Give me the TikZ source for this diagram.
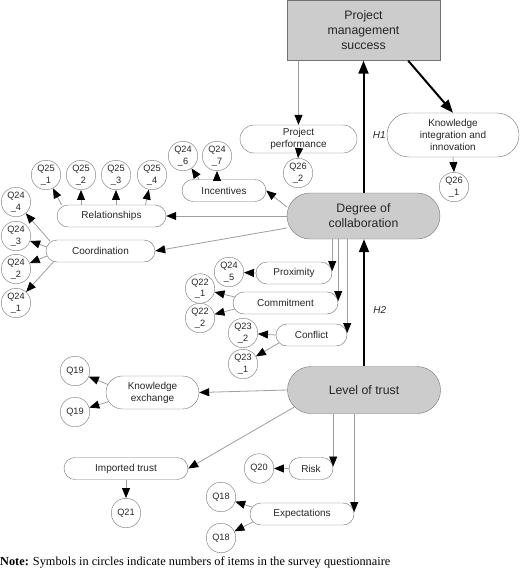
\documentclass[tikz,border=0pt]{standalone}
\usepackage{fontspec}
\setmainfont{Liberation Serif}
\setsansfont{Liberation Sans}
\usetikzlibrary{arrows.meta,shapes.misc}
\definecolor{boxgray}{gray}{0.8}
\definecolor{edgegray}{gray}{0.45}
\definecolor{linegray}{gray}{0.62}
\begin{document}
\begin{tikzpicture}[x=1pt, y=-1pt,
    mainbox/.style={rounded rectangle, draw=edgegray, fill=boxgray, text=black!85, align=center, inner sep=0pt,
        minimum width=153pt, minimum height=46pt, font=\sffamily\fontsize{12.3}{15}\selectfont},
    subbox/.style={rounded rectangle, draw=edgegray, fill=white, text=black!85, align=center, inner sep=0pt,
        minimum height=22pt, font=\sffamily\fontsize{10}{12}\selectfont},
    item/.style={circle, draw=edgegray, fill=white, text=black!85, align=center, inner sep=0pt,
        minimum size=29.5pt, font=\sffamily\fontsize{9.2}{11.5}\selectfont},
    link/.style={draw=linegray, line width=0.8pt, -{Triangle[length=10pt, width=8pt, color=black, fill=black]}},
    hypo/.style={draw=black, line width=2pt, -{Triangle[length=13pt, width=10pt]}},
    hlabel/.style={font=\sffamily\itshape\fontsize{10}{12}\selectfont, text=black!85}]
    \useasboundingbox (0,0) rectangle (520,578);

    % constructs
    \node[mainbox, rectangle, minimum height=60pt] (PMS) at (363.5,30.5) {Project\\management\\success};
    \node[mainbox] (DC) at (363.5,216) {Degree of\\collaboration};
    \node[mainbox, minimum height=47pt] (LT) at (364,390) {Level of trust};

    \node[subbox, minimum width=117pt, minimum height=28pt] (PP) at (298.5,139) {Project\\performance};
    \node[subbox, minimum width=132pt, minimum height=44pt] (KII) at (453,135) {Knowledge\\integration and\\innovation};
    \node[subbox, minimum width=84pt] (INC) at (224,190.5) {Incentives};
    \node[subbox, minimum width=109pt] (REL) at (111.5,216) {Relationships};
    \node[subbox, minimum width=109pt] (COO) at (100.5,251) {Coordination};
    \node[subbox, minimum width=76pt] (PROX) at (294,273) {Proximity};
    \node[subbox, minimum width=105pt] (COM) at (285.5,303) {Commitment};
    \node[subbox, minimum width=71pt] (CONF) at (311.5,335) {Conflict};
    \node[subbox, minimum width=93pt, minimum height=33pt] (KE) at (152.5,392.5) {Knowledge\\exchange};
    \node[subbox, minimum width=124pt] (IT) at (126,468.5) {Imported trust};
    \node[subbox, minimum width=44pt] (RISK) at (311,468.5) {Risk};
    \node[subbox, minimum width=104pt] (EXP) at (302,514) {Expectations};

    % survey items
    \node[item] (Q262) at (298,173) {Q26\\\_2};
    \node[item] (Q261) at (454,187) {Q26\\\_1};
    \node[item] (Q246) at (183,156) {Q24\\\_6};
    \node[item] (Q247) at (217,156) {Q24\\\_7};
    \node[item] (Q251) at (46,175) {Q25\\\_1};
    \node[item] (Q252) at (81,175) {Q25\\\_2};
    \node[item] (Q253) at (116,175) {Q25\\\_3};
    \node[item] (Q254) at (152,175) {Q25\\\_4};
    \node[item] (Q244) at (16,202) {Q24\\\_4};
    \node[item] (Q243) at (16,236) {Q24\\\_3};
    \node[item] (Q242) at (16,269) {Q24\\\_2};
    \node[item] (Q241) at (16,303) {Q24\\\_1};
    \node[item] (Q245) at (229,272) {Q24\\\_5};
    \node[item] (Q221) at (200,288.5) {Q22\\\_1};
    \node[item] (Q222) at (200,318) {Q22\\\_2};
    \node[item] (Q232) at (243,333) {Q23\\\_2};
    \node[item] (Q231) at (243,364) {Q23\\\_1};
    \node[item] (Q19a) at (75,371) {Q19};
    \node[item] (Q19b) at (75,412) {Q19};
    \node[item] (Q21) at (126,513) {Q21};
    \node[item] (Q20) at (259,468.5) {Q20};
    \node[item] (Q18a) at (221,497) {Q18};
    \node[item] (Q18b) at (221,538) {Q18};

    % hypotheses
    \draw[hypo] (DC.north) -- node[hlabel, pos=0.44, right=5pt] {H1} (DC.north |- PMS.south);
    \draw[hypo] (LT.north) -- node[hlabel, pos=0.44, right=5pt] {H2} (LT.north |- DC.south);
    \draw[hypo] ([xshift=-32pt]PMS.south east) -- (KII.north);

    % outcome side
    \draw[link] (PP.north |- PMS.south) -- (PP.north);
    \draw[link] (PP.south) -- (Q262.north);
    \draw[link] (KII.south) -- (Q261.north);

    % collaboration side
    \draw[link] ([yshift=9pt]DC.west) -- (INC.east);
    \draw[link] (DC.west) -- (REL.east);
    \draw[link] ([yshift=-12pt]DC.west) -- (COO.east);
    \draw[link] (DC.south -| PROX.east) -- ([yshift=2pt]PROX.east);
    \draw[link] (DC.south -| COM.east) -- ([yshift=2pt]COM.east);
    \draw[link] (DC.south -| CONF.east) -- ([yshift=2pt]CONF.east);

    \draw[link] ([xshift=-25pt]INC.north) -- (Q246);
    \draw[link] (INC.north -| Q247) -- (Q247.south);
    \draw[link] ([xshift=-50pt]REL.north) -- (Q251);
    \draw[link] (REL.north -| Q252) -- (Q252.south);
    \draw[link] (REL.north -| Q253) -- (Q253.south);
    \draw[link] ([xshift=34pt]REL.north) -- (Q254);
    \draw[link] ([shift={(4pt,10pt)}]COO.west) -- (Q244);
    \draw[link] ([shift={(1pt,4pt)}]COO.west) -- (Q243);
    \draw[link] ([shift={(1pt,-5pt)}]COO.west) -- (Q242);
    \draw[link] ([shift={(8pt,-10.5pt)}]COO.west) -- (Q241);
    \draw[link] (PROX.west) -- (Q245);
    \draw[link] ([shift={(2pt,6pt)}]COM.west) -- (Q221);
    \draw[link] ([shift={(2pt,-6pt)}]COM.west) -- (Q222);
    \draw[link] (CONF.west) -- (Q232);
    \draw[link] ([shift={(3pt,-8pt)}]CONF.west) -- (Q231);

    % trust side
    \draw[link] (LT.west) -- (KE.east);
    \draw[link] ([shift={(7pt,-17pt)}]LT.west) -- (IT.east);
    \draw[link] (LT.south -| RISK.east) -- ([yshift=2pt]RISK.east);
    \draw[link] (LT.south -| EXP.east) -- ([yshift=2pt]EXP.east);

    \draw[link] ([shift={(2pt,8pt)}]KE.west) -- (Q19a);
    \draw[link] ([shift={(3pt,-9pt)}]KE.west) -- (Q19b);
    \draw[link] (IT.south -| Q21) -- (Q21.north);
    \draw[link] (RISK.west) -- (Q20);
    \draw[link] ([shift={(2pt,7pt)}]EXP.west) -- (Q18a);
    \draw[link] ([shift={(3pt,-8pt)}]EXP.west) -- (Q18b);

    \node[anchor=base west, inner sep=0pt, font=\fontsize{12.3}{14}\selectfont] (note) at (0,565)
        {\textbf{Note:} Symbols in circles indicate numbers of items in the survey questionnaire};
\end{tikzpicture}
\end{document}
